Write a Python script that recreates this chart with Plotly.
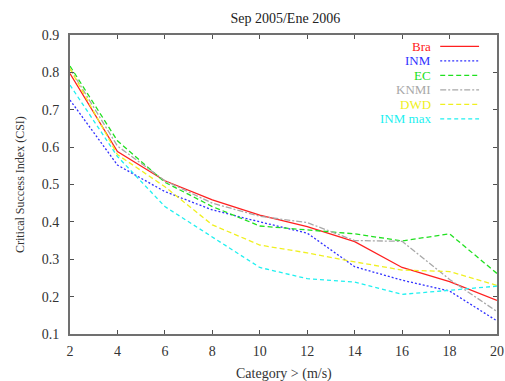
import plotly.graph_objects as go

categories = [2, 4, 6, 8, 10, 12, 14, 16, 18, 20]

bra = [0.797, 0.588, 0.510, 0.459, 0.418, 0.387, 0.347, 0.278, 0.240, 0.190]
inm = [0.726, 0.552, 0.481, 0.432, 0.400, 0.370, 0.280, 0.244, 0.215, 0.135]
ec = [0.817, 0.617, 0.506, 0.441, 0.389, 0.378, 0.368, 0.349, 0.368, 0.262]
knmi = [0.810, 0.603, 0.510, 0.450, 0.415, 0.398, 0.350, 0.348, 0.246, 0.160]
dwd = [0.810, 0.580, 0.494, 0.392, 0.338, 0.317, 0.293, 0.271, 0.267, 0.230]
inm_max = [0.766, 0.575, 0.441, 0.360, 0.278, 0.248, 0.239, 0.206, 0.218, 0.228]

series_names = ["Bra", "INM", "EC", "KNMI", "DWD", "INM max"]
series_values = [bra, inm, ec, knmi, dwd, inm_max]
colors = ["#ff2020", "#3030ff", "#20e020", "#a8a8a8", "#f0f020", "#20f0f0"]
dashes = ["solid", "2px,2px", "5px,3px", "6px,2px,2px,2px", "5px,3px", "4px,3px"]

x_ticks = [2, 4, 6, 8, 10, 12, 14, 16, 18, 20]
y_ticks = [0.1, 0.2, 0.3, 0.4, 0.5, 0.6, 0.7, 0.8, 0.9]

font = "Liberation Serif, Times New Roman, serif"
txt = "#333333"

fig = go.Figure()
for name, vals, c, d in zip(series_names, series_values, colors, dashes):
    fig.add_trace(go.Scatter(x=categories, y=vals, mode="lines", name=name,
                             line=dict(color=c, width=1.3, dash=d),
                             showlegend=False))

# gnuplot-style legend: text right-aligned, line sample on the right
leg_top = 0.962
leg_step = 0.0485
for i, (name, c, d) in enumerate(zip(series_names, colors, dashes)):
    yy = leg_top - i * leg_step
    fig.add_annotation(x=0.849, y=yy, xref="paper", yref="paper", text=name,
                       showarrow=False, xanchor="right", yanchor="middle",
                       font=dict(family=font, size=13, color=c))
    fig.add_shape(type="line", xref="paper", yref="paper",
                  x0=0.867, x1=0.958, y0=yy, y1=yy,
                  line=dict(color=c, width=1.3, dash=d))

axis_common = dict(showgrid=False, zeroline=False, showline=True,
                   linecolor="#707070", linewidth=2, mirror="ticks",
                   ticks="inside", ticklen=4, tickcolor="#505050",
                   automargin=False,
                   tickfont=dict(family=font, size=14, color=txt))

fig.update_xaxes(range=[2, 20], tickvals=x_ticks, ticklabelstandoff=3,
                 **axis_common)
fig.update_yaxes(range=[0.1, 0.9], tickvals=y_ticks, tickformat=".1f",
                 ticklabelstandoff=6, **axis_common)

fig.add_annotation(x=0.5, y=-0.1, xref="paper", yref="paper",
                   text="Category > (m/s)", showarrow=False,
                   xanchor="center", yanchor="top",
                   font=dict(family=font, size=14, color=txt))
fig.add_annotation(x=-0.118, y=0.5, xref="paper", yref="paper",
                   text="Critical Success Index (CSI)", showarrow=False,
                   textangle=-90, xanchor="center", yanchor="middle",
                   font=dict(family=font, size=12, color=txt))

fig.update_layout(
    width=505, height=381,
    margin=dict(l=70, r=8, t=35, b=47, autoexpand=False),
    paper_bgcolor="white", plot_bgcolor="white",
    title=dict(text="Sep 2005/Ene 2006", x=0.565, xanchor="center",
               y=1 - 18 / 381, yanchor="middle", yref="container",
               font=dict(family=font, size=14, color="#222222")),
)

fig.write_html("out.html", config={"displayModeBar": False},
               post_script="document.body.style.margin='0';document.body.style.overflow='hidden';")
